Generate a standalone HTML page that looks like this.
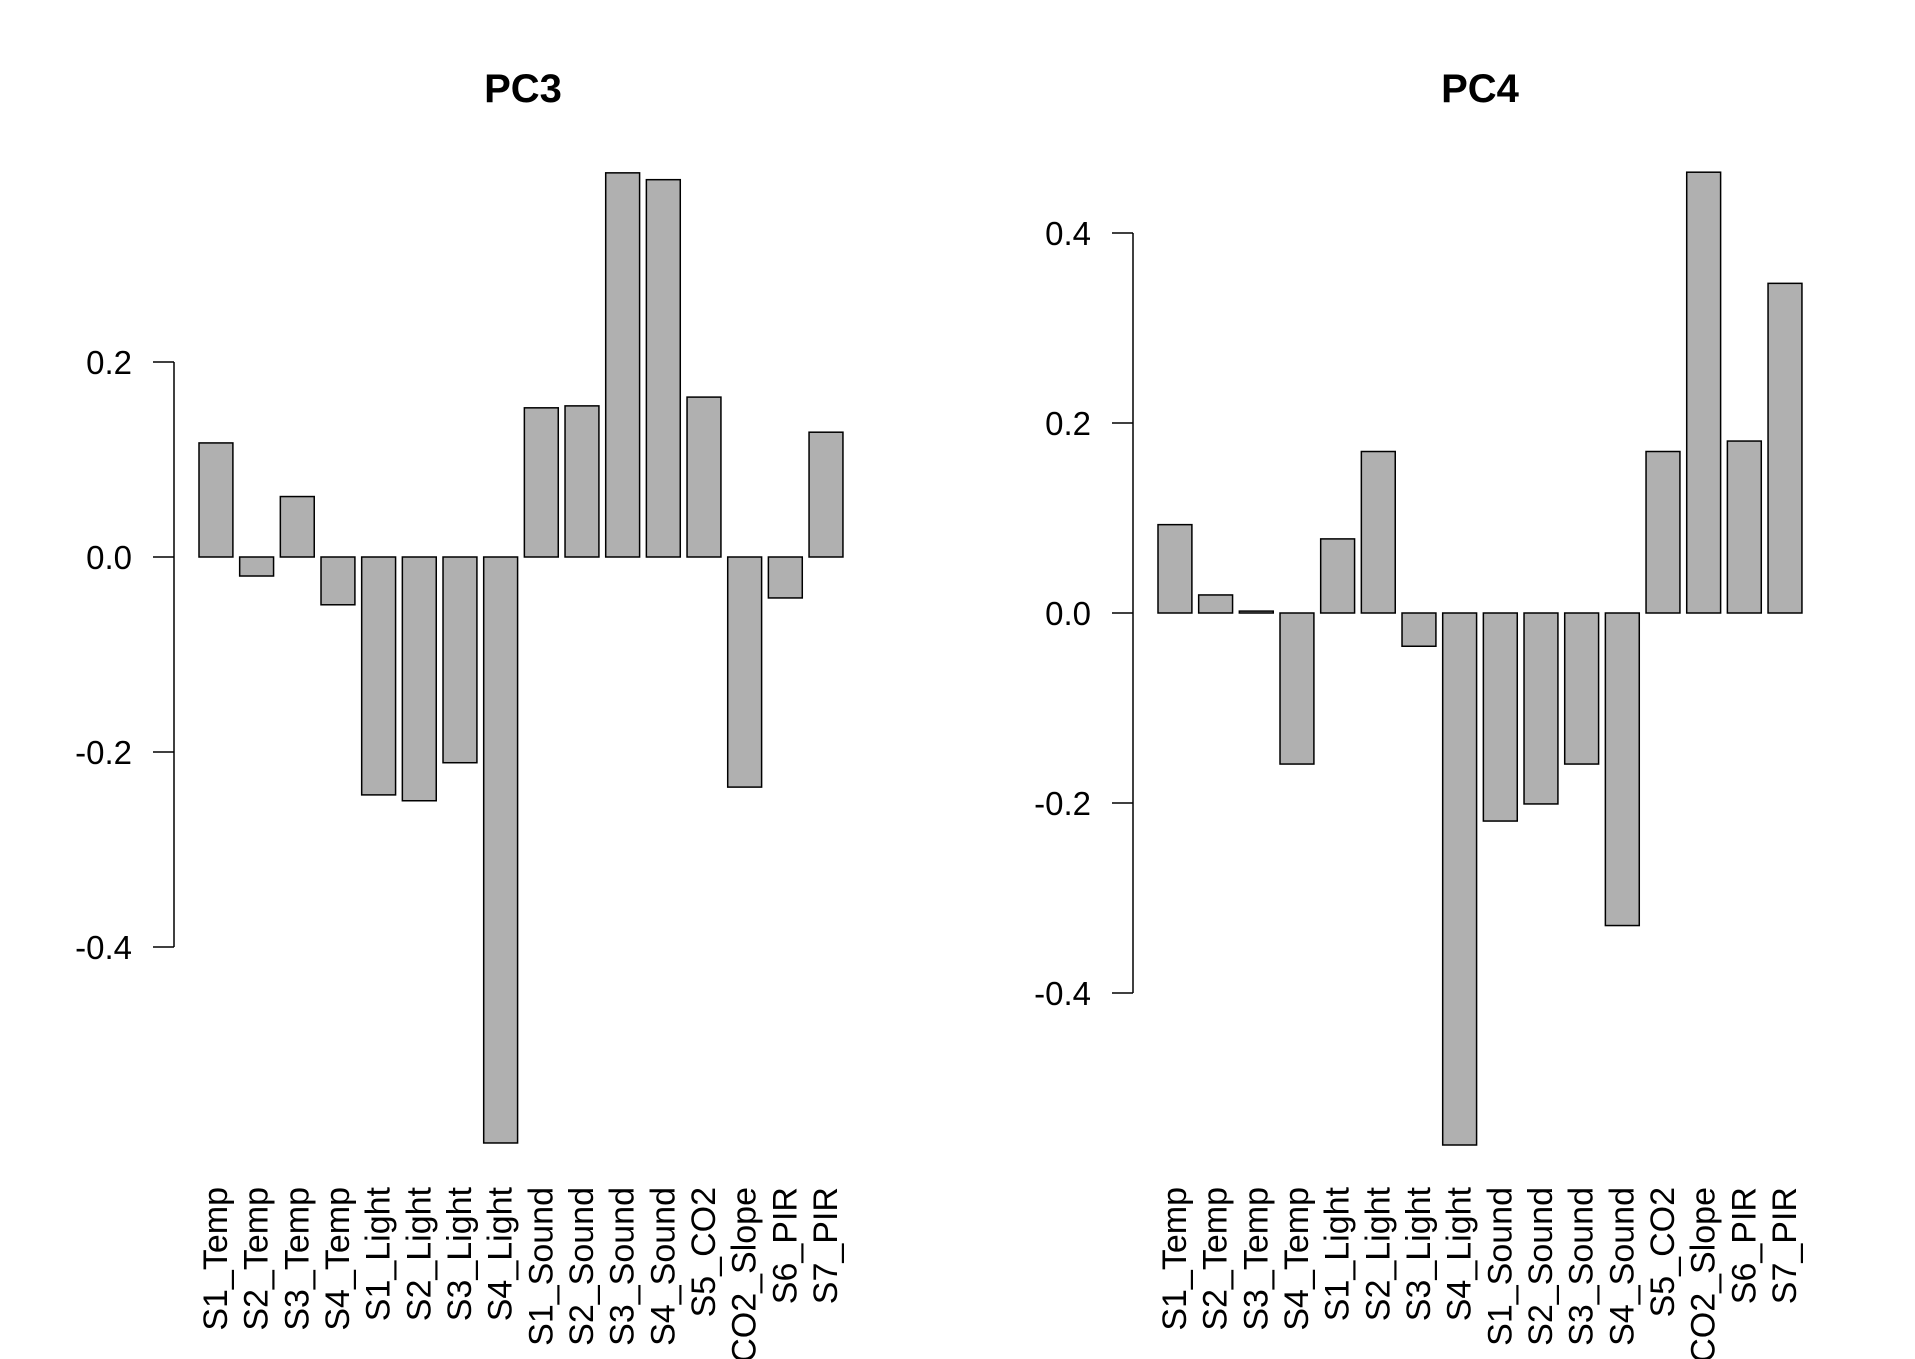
<!DOCTYPE html>
<html><head><meta charset="utf-8"><style>
html,body{margin:0;padding:0;background:#fff;}
svg{display:block;font-family:"Liberation Sans",Arial,sans-serif;}
</style></head><body>
<svg id="chart" width="1915" height="1359" viewBox="0 0 1915 1359" xmlns="http://www.w3.org/2000/svg"></svg>
<script>
const categories = ["S1_Temp","S2_Temp","S3_Temp","S4_Temp","S1_Light","S2_Light","S3_Light","S4_Light","S1_Sound","S2_Sound","S3_Sound","S4_Sound","S5_CO2","S5_CO2_Slope","S6_PIR","S7_PIR"];
const pc3Values = [0.117,-0.0195,0.062,-0.049,-0.244,-0.250,-0.211,-0.601,0.153,0.155,0.394,0.387,0.164,-0.236,-0.042,0.128];
const pc4Values = [0.093,0.019,0.002,-0.159,0.078,0.170,-0.035,-0.560,-0.219,-0.201,-0.159,-0.329,0.170,0.464,0.181,0.347];
const pc3Ticks = [0.2,0.0,-0.2,-0.4];
const pc4Ticks = [0.4,0.2,0.0,-0.2,-0.4];
const pc3TickLabels = ["0.2","0.0","-0.2","-0.4"];
const pc4TickLabels = ["0.4","0.2","0.0","-0.2","-0.4"];

const NS = "http://www.w3.org/2000/svg";
const svg = document.getElementById("chart");
function mk(tag, attrs, parent){
  const e = document.createElementNS(NS, tag);
  for (const k in attrs) e.setAttribute(k, attrs[k]);
  (parent||svg).appendChild(e);
  return e;
}
function panel(cfg){
  const g = mk("g", {});
  
  
  const y = v => cfg.zeroY - v * cfg.pxPerUnit;
  const pitch = 40.67, barW = 33.9;
  const x = i => cfg.barStart + i * pitch;
  const t = mk("text", {x: cfg.titleX, y: 102, "text-anchor": "middle", "font-size": 40, "font-weight": "bold", fill: "#000"}, g);
  t.textContent = cfg.title;
  
  
  const ax = mk("g", {}, g);
  
  
  const tks = cfg.ticks;
  mk("line", {x1: cfg.axisX, x2: cfg.axisX, y1: y(tks[0]), y2: y(tks[tks.length-1]), stroke: "#000", "stroke-width": 1.5}, ax);
  tks.forEach((v, i) => {
    mk("line", {x1: cfg.axisX - 21, x2: cfg.axisX, y1: y(v), y2: y(v), stroke: "#000", "stroke-width": 1.5}, ax);
    const tl = mk("text", {x: cfg.axisX - 42, y: y(v) + 12, "text-anchor": "end", "font-size": 33, fill: "#000"}, ax);
    tl.textContent = cfg.tickLabels[i];
    
    
  });
  cfg.values.forEach((v, i) => {
    const top = Math.min(y(v), y(0)), h = Math.max(Math.abs(y(v) - y(0)), 0.5);
    const r = mk("rect", {x: x(i), y: top, width: barW, height: h, fill: "#b0b0b0", stroke: "#000", "stroke-width": 1.5}, g);
    
    
    const cx = x(i) + barW / 2 + 11;
    const lab = mk("text", {x: cx, y: 1187, "text-anchor": "end", "font-size": 34, fill: "#000", transform: "rotate(-90 " + cx + " 1187)"}, g);
    lab.textContent = categories[i];
    
    
  });
}
panel({name: "pc3-panel", title: "PC3", titleX: 523, axisX: 174, barStart: 199, zeroY: 557, pxPerUnit: 975, values: pc3Values, ticks: pc3Ticks, tickLabels: pc3TickLabels});
panel({name: "pc4-panel", title: "PC4", titleX: 1480, axisX: 1133, barStart: 1158, zeroY: 613, pxPerUnit: 950, values: pc4Values, ticks: pc4Ticks, tickLabels: pc4TickLabels});
</script>
</body></html>
